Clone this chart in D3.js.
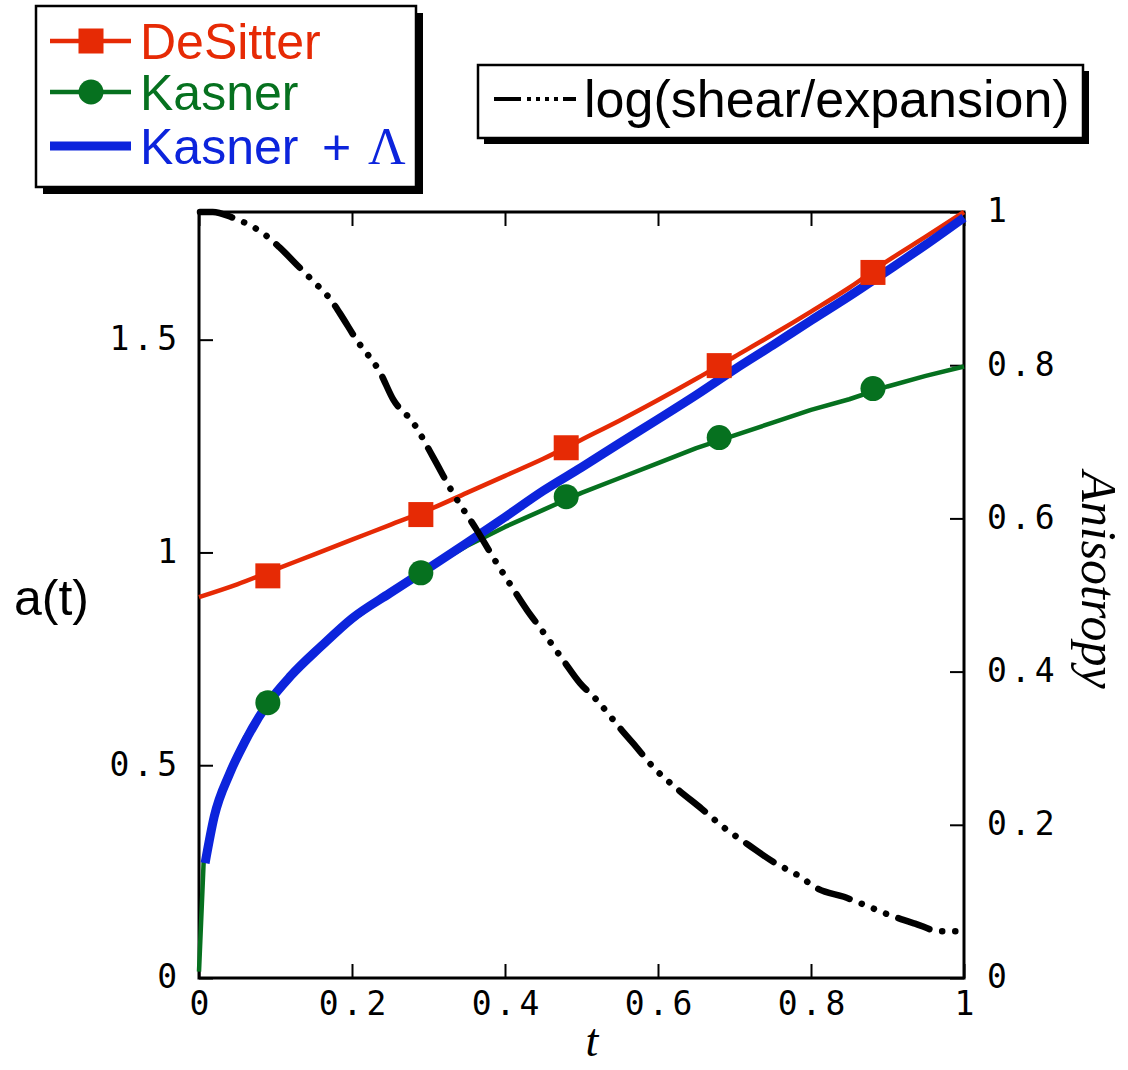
<!DOCTYPE html>
<html><head><meta charset="utf-8">
<script src="https://cdn.jsdelivr.net/npm/d3@7"></script>
<style>body{margin:0;background:#fff} svg{display:block}</style>
</head><body>
<svg id="c" width="1128" height="1070"></svg>
<script>
// ---------- data ----------
const xTicks = [0, 0.2, 0.4, 0.6, 0.8, 1];
const xTickLabels = ["0", "0.2", "0.4", "0.6", "0.8", "1"];
const leftTicks = [0, 0.5, 1, 1.5];
const leftTickLabels = ["0", "0.5", "1", "1.5"];
const rightTicks = [0, 0.2, 0.4, 0.6, 0.8, 1];
const rightTickLabels = ["0", "0.2", "0.4", "0.6", "0.8", "1"];

const seriesNames = ["DeSitter", "Kasner", "Kasner", "log(shear/expansion)"];

const desitterT = [0, 0.05, 0.1, 0.15, 0.2, 0.25, 0.3, 0.35, 0.4, 0.45, 0.5, 0.55, 0.6, 0.65, 0.7, 0.75, 0.8, 0.85, 0.9, 0.95, 1.0];
const desitterA = [0.895, 0.925, 0.96, 0.995, 1.03, 1.065, 1.10, 1.14, 1.18, 1.22, 1.265, 1.31, 1.358, 1.408, 1.46, 1.512, 1.566, 1.622, 1.685, 1.742, 1.80];
const desitterMarkT = [0.09, 0.29, 0.48, 0.68, 0.881];
const desitterMarkA = [0.945, 1.089, 1.246, 1.439, 1.658];

const kasnerT = [0, 0.006, 0.01, 0.02, 0.04, 0.06, 0.09, 0.12, 0.16, 0.2, 0.25, 0.3, 0.35, 0.4, 0.45, 0.5, 0.55, 0.6, 0.65, 0.7, 0.75, 0.8, 0.85, 0.9, 0.95, 1.0];
const kasnerA = [0.015, 0.27, 0.31, 0.39, 0.49, 0.565, 0.647, 0.71, 0.78, 0.84, 0.905, 0.962, 1.015, 1.06, 1.10, 1.14, 1.175, 1.21, 1.245, 1.275, 1.305, 1.335, 1.36, 1.39, 1.415, 1.437];
const kasnerMarkT = [0.09, 0.29, 0.48, 0.68, 0.881];
const kasnerMarkA = [0.647, 0.952, 1.131, 1.270, 1.385];

const lambdaT = [0.008, 0.02, 0.04, 0.06, 0.09, 0.12, 0.16, 0.2, 0.25, 0.3, 0.35, 0.4, 0.45, 0.5, 0.55, 0.6, 0.65, 0.7, 0.75, 0.8, 0.85, 0.9, 0.95, 1.0];
const lambdaA = [0.27, 0.38, 0.48, 0.555, 0.645, 0.71, 0.78, 0.845, 0.905, 0.963, 1.022, 1.083, 1.145, 1.20, 1.257, 1.313, 1.37, 1.43, 1.487, 1.545, 1.602, 1.662, 1.723, 1.787];

const anisoT = [0.0013, 0.018, 0.043, 0.088, 0.105, 0.132, 0.148, 0.174, 0.184, 0.206, 0.237, 0.254, 0.280, 0.306, 0.332, 0.363, 0.384, 0.410, 0.429, 0.446, 0.476, 0.498, 0.518, 0.553, 0.567, 0.595, 0.625, 0.657, 0.688, 0.718, 0.750, 0.783, 0.810, 0.843, 0.871, 0.903, 0.936, 0.969, 0.990];
const anisoV = [1.0, 1.0, 0.993, 0.969, 0.954, 0.927, 0.911, 0.883, 0.868, 0.833, 0.790, 0.755, 0.725, 0.68, 0.633, 0.585, 0.55, 0.509, 0.48, 0.457, 0.415, 0.385, 0.365, 0.323, 0.307, 0.274, 0.247, 0.221, 0.195, 0.174, 0.152, 0.134, 0.116, 0.106, 0.095, 0.082, 0.071, 0.061, 0.061];

// ---------- styles ----------
const RED = "#e62a05", GREEN = "#06711f", BLUE = "#0c24dc";
const MONO = "'DejaVu Sans Mono', monospace";
const SANS = "'Liberation Sans', Arial, Helvetica, sans-serif";
const SERIF = "'Liberation Serif', 'Times New Roman', serif";
const DASH = "33,13,0.1,13,0.1,13,0.1,13";

const svg = d3.select("#c");
const X0 = 199, X1 = 964, Y0 = 978, Y1 = 212;
const x = d3.scaleLinear().domain([0, 1]).range([X0, X1]);
const yL = d3.scaleLinear().domain([0, 1.8]).range([Y0, Y1]);
const yR = d3.scaleLinear().domain([0, 1]).range([Y0, Y1]);

const zip = (a, b) => a.map((v, i) => [v, b[i]]);

// ---------- axes ----------
function styleAxis(g) {
  g.select(".domain").remove();
  g.selectAll(".tick line").attr("stroke", "#000").attr("stroke-width", 2);
  g.selectAll(".tick text").attr("fill", "#000").style("font-family", MONO)
    .style("font-size", "33px").style("letter-spacing", "4px");
}
svg.append("g").attr("transform", `translate(0,${Y0})`)
  .call(d3.axisBottom(x).tickValues(xTicks).tickSize(-14).tickPadding(14)
    .tickFormat((d, i) => xTickLabels[i]))
  .call(styleAxis)
  .call(g => g.selectAll(".tick text").attr("dx", "2px"));
svg.append("g").attr("transform", `translate(0,${Y1})`)
  .call(d3.axisTop(x).tickValues(xTicks).tickSize(-14).tickFormat(""))
  .call(styleAxis);
svg.append("g").attr("transform", `translate(${X0},0)`)
  .call(d3.axisLeft(yL).tickValues(leftTicks).tickSize(-14).tickPadding(22)
    .tickFormat((d, i) => leftTickLabels[i]))
  .call(styleAxis)
  .call(g => g.selectAll(".tick text").attr("dx", "4px").attr("dy", "0.3em"));
svg.append("g").attr("transform", `translate(${X1},0)`)
  .call(d3.axisRight(yR).tickValues(rightTicks).tickSize(-14).tickPadding(23)
    .tickFormat((d, i) => rightTickLabels[i]))
  .call(styleAxis)
  .call(g => g.selectAll(".tick text").attr("dy", "0.3em"));

// frame
svg.append("rect").attr("x", X0).attr("y", Y1).attr("width", X1 - X0).attr("height", Y0 - Y1)
  .attr("fill", "none").attr("stroke", "#000").attr("stroke-width", 3);

// ---------- lines ----------
const lineL = d3.line().x(d => x(d[0])).y(d => yL(d[1]));
const lineR = d3.line().x(d => x(d[0])).y(d => yR(d[1])).curve(d3.curveMonotoneX);
const lineLs = d3.line().x(d => x(d[0])).y(d => yL(d[1])).curve(d3.curveMonotoneX);

svg.append("path").datum(zip(desitterT, desitterA)).attr("d", lineLs)
  .attr("fill", "none").attr("stroke", RED).attr("stroke-width", 4.5);
svg.append("path").datum(zip(kasnerT, kasnerA)).attr("d", lineL)
  .attr("fill", "none").attr("stroke", GREEN).attr("stroke-width", 4.5).attr("stroke-linejoin", "round");
svg.append("path").datum(zip(lambdaT, lambdaA)).attr("d", lineLs)
  .attr("fill", "none").attr("stroke", BLUE).attr("stroke-width", 9);

// markers
svg.append("g").selectAll("rect").data(zip(desitterMarkT, desitterMarkA)).join("rect")
  .attr("x", d => x(d[0]) - 12.5).attr("y", d => yL(d[1]) - 12.5)
  .attr("width", 25).attr("height", 25).attr("fill", RED);
svg.append("g").selectAll("circle").data(zip(kasnerMarkT, kasnerMarkA)).join("circle")
  .attr("cx", d => x(d[0])).attr("cy", d => yL(d[1])).attr("r", 12.5).attr("fill", GREEN);

// anisotropy
svg.append("path").datum(zip(anisoT, anisoV)).attr("d", lineR)
  .attr("fill", "none").attr("stroke", "#000").attr("stroke-width", 6.5)
  .attr("stroke-linecap", "round").attr("stroke-dasharray", DASH);

// ---------- axis titles ----------
svg.append("text").attr("x", 14).attr("y", 615).text("a(t)")
  .style("font-family", SANS).style("font-size", "50px").attr("fill", "#000");
svg.append("text").attr("x", 592).attr("y", 1056).attr("text-anchor", "middle").text("t")
  .style("font-family", SERIF).style("font-style", "italic").style("font-size", "46px");
svg.append("text").attr("transform", "translate(1082,580) rotate(90)").attr("text-anchor", "middle")
  .text("Anisotropy").style("font-family", SERIF).style("font-style", "italic").style("font-size", "50px");

// ---------- legend 1 ----------
const leg = svg.append("g");
leg.append("rect").attr("x", 43).attr("y", 13).attr("width", 380).attr("height", 181).attr("fill", "#000");
leg.append("rect").attr("x", 36).attr("y", 6).attr("width", 380).attr("height", 181)
  .attr("fill", "#fff").attr("stroke", "#000").attr("stroke-width", 2.5);
const legY = [41, 92, 146];
const legColors = [RED, GREEN, BLUE];
const legWidths = [4.5, 4.5, 9];
legY.forEach((yy, i) => {
  leg.append("line").attr("x1", 50).attr("x2", 131).attr("y1", yy).attr("y2", yy)
    .attr("stroke", legColors[i]).attr("stroke-width", legWidths[i]);
});
leg.append("rect").attr("x", 91 - 12.5).attr("y", legY[0] - 12.5).attr("width", 25).attr("height", 25).attr("fill", RED);
leg.append("circle").attr("cx", 91).attr("cy", legY[1]).attr("r", 12.5).attr("fill", GREEN);
const legText = leg.selectAll("text.lt").data([0, 1, 2]).join("text").attr("class", "lt")
  .attr("x", 140).attr("y", i => legY[i] + 18)
  .attr("fill", i => legColors[i]).style("font-family", SANS).style("font-size", "50px")
  .text(i => seriesNames[i]);
legText.filter(i => i === 2).append("tspan").attr("x", 322).text("+");
legText.filter(i => i === 2).append("tspan").attr("x", 368)
  .style("font-family", SERIF).style("font-size", "52px").text("Λ");

// ---------- legend 2 ----------
const leg2 = svg.append("g");
leg2.append("rect").attr("x", 484).attr("y", 71).attr("width", 605).attr("height", 73).attr("fill", "#000");
leg2.append("rect").attr("x", 478).attr("y", 65).attr("width", 605).attr("height", 73)
  .attr("fill", "#fff").attr("stroke", "#000").attr("stroke-width", 2.5);
leg2.append("line").attr("x1", 494).attr("x2", 576).attr("y1", 99).attr("y2", 99)
  .attr("stroke", "#000").attr("stroke-width", 4).attr("stroke-dasharray", "27,6,4,5,4,5,4,5,4,5");
leg2.append("text").attr("x", 584).attr("y", 117).text(seriesNames[3])
  .style("font-family", SANS).style("font-size", "52px").attr("fill", "#000");
</script>
</body></html>
